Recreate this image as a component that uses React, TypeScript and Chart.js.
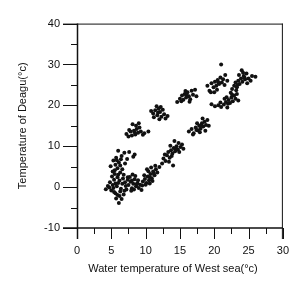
import React, { useEffect, useRef } from "react";
import { Chart, registerables } from "chart.js";

Chart.register(...registerables);

const xTitle = "Water temperature of West sea(°c)";
const yTitle = "Temperature of Deagu(°c)";
const xMajor = [0, 5, 10, 15, 20, 25, 30];
const xMinor = [2.5, 7.5, 12.5, 17.5, 22.5, 27.5];
const yMajor = [-10, 0, 10, 20, 30, 40];
const yMinor = [-5, 5, 15, 25, 35];

const clusterA = [[4.2,-0.5],[4.5,0.3],[4.8,1.2],[5.0,-0.8],[5.2,0.5],[5.4,1.8],[5.6,-1.5],[5.8,0.2],[6.0,1.0],[6.2,-2.2],[6.4,-0.4],[6.6,0.8],[5.1,2.6],[5.5,3.2],[5.9,2.4],[6.3,3.6],[6.7,2.1],[7.0,1.2],[7.2,-0.6],[6.8,-1.8],[6.1,-3.9],[5.7,-2.8],[6.5,-2.9],[5.3,-0.2],[4.9,5.1],[5.3,6.5],[5.7,7.2],[6.1,6.0],[6.5,7.6],[6.9,8.4],[7.3,6.9],[5.9,4.6],[6.3,5.3],[5.5,4.1],[6.6,4.4],[7.0,5.8],[7.6,8.6],[8.2,7.4],[8.4,8.0],[6.0,8.9],[5.6,5.5],[6.8,3.0],[7.4,2.4],[6.2,1.6],[5.4,-1.2],[4.7,-0.1],[6.9,-0.9],[7.1,0.3],[5.8,6.6],[6.4,6.8],[5.2,3.8],[6.0,3.0],[5.6,0.9],[6.3,-1.1],[5.9,-1.9]];
const clusterB = [[7.5,0.5],[7.8,1.3],[8.0,-0.3],[8.2,0.8],[8.4,1.9],[8.6,0.2],[8.8,1.0],[9.0,-0.2],[9.2,0.6],[7.7,2.5],[8.1,3.1],[8.5,2.7],[7.9,-0.9],[8.9,1.7],[9.5,0.4],[8.3,-0.6],[7.4,1.8],[9.4,-0.7],[8.0,1.6],[8.7,0.7]];
const clusterC = [[9.6,1.4],[9.9,2.0],[10.1,1.0],[10.3,2.6],[10.5,1.7],[10.7,3.2],[10.9,2.2],[11.1,3.8],[11.3,2.9],[11.5,4.4],[10.4,3.9],[10.8,4.8],[11.7,3.6],[12.0,4.9],[10.0,0.6],[10.6,0.9],[11.0,1.5],[9.8,2.9],[11.4,5.2],[12.4,5.8],[10.2,4.4],[10.6,2.4],[11.2,3.3]];
const clusterD = [[12.6,7.0],[12.9,6.4],[13.1,7.8],[13.3,8.6],[13.5,7.2],[13.7,9.0],[13.9,8.2],[14.1,9.6],[14.3,8.8],[14.5,10.0],[14.7,9.2],[13.4,6.2],[14.0,5.3],[14.8,10.8],[15.1,9.8],[15.3,10.4],[14.2,11.3],[12.8,8.0],[13.6,10.1],[15.5,9.4],[14.9,8.6],[13.8,7.6],[14.4,9.3]];
const clusterE = [[16.3,13.6],[16.7,14.2],[17.0,13.2],[17.3,14.6],[17.6,13.9],[17.8,15.0],[18.0,14.3],[18.2,15.6],[18.4,14.8],[18.6,16.0],[18.8,15.2],[19.0,16.4],[18.3,16.8],[17.5,15.6],[19.2,15.0],[16.9,12.9],[17.9,13.4],[18.7,13.8],[18.1,15.1],[17.4,14.0]];
const clusterF = [[19.6,20.3],[20.1,19.8],[20.6,20.0],[21.0,19.6],[21.4,20.2],[21.7,20.8],[21.9,19.5],[22.1,21.3],[22.3,20.6],[22.5,21.9],[22.7,21.0],[22.9,22.4],[23.1,21.6],[23.3,22.8],[21.8,22.0],[22.4,23.1],[23.5,21.2],[21.5,21.6],[20.9,20.7],[22.0,20.4],[22.6,22.6]];
const clusterG = [[22.6,24.0],[22.9,24.8],[23.1,25.6],[23.3,24.4],[23.5,26.0],[23.7,25.2],[23.9,26.6],[24.1,25.8],[24.3,27.2],[24.5,26.4],[24.7,27.8],[24.0,28.6],[24.2,28.0],[23.6,27.4],[25.0,26.6],[25.3,26.0],[26.0,27.0],[23.2,23.7],[24.8,25.4],[25.5,27.2],[23.4,25.0],[24.4,26.8]];
const clusterH = [[19.0,24.8],[19.3,23.6],[19.6,25.4],[19.9,24.4],[20.1,25.8],[20.3,24.8],[20.5,26.2],[20.7,25.2],[20.9,26.8],[21.1,25.6],[21.3,26.4],[21.5,25.0],[19.5,23.2],[20.4,23.8],[21.6,27.4],[21.0,30.0],[21.9,26.0],[20.0,23.2],[20.6,25.6]];
const clusterI = [[14.6,20.8],[15.0,21.6],[15.3,22.4],[15.5,21.4],[15.7,22.8],[15.9,21.9],[16.1,23.2],[16.3,22.2],[16.5,21.5],[16.7,23.6],[16.9,22.6],[17.2,23.8],[15.8,23.5],[16.4,20.9],[17.4,22.2],[15.2,21.0],[16.0,22.5]];
const clusterJ = [[10.8,18.6],[11.1,18.0],[11.4,18.8],[11.7,17.6],[11.9,19.2],[12.1,18.4],[12.3,17.2],[12.5,18.9],[12.7,17.8],[12.2,19.6],[11.6,19.8],[12.9,16.8],[13.2,17.4],[11.2,17.1],[12.0,16.6],[11.8,18.2]];
const clusterK = [[7.2,13.0],[7.5,12.4],[7.8,13.6],[8.0,12.6],[8.3,13.8],[8.5,12.9],[8.7,14.2],[8.9,13.3],[9.1,14.6],[9.3,13.6],[8.1,15.4],[9.0,15.6],[9.6,12.8],[8.6,15.0],[7.6,14.0],[9.8,13.2],[10.4,13.6],[8.4,13.4]];

const allPoints = [clusterA, clusterB, clusterC, clusterD, clusterE, clusterF, clusterG, clusterH, clusterI, clusterJ, clusterK]
  .flat()
  .map(([x, y]) => ({ x, y }));

const INK = "#111";
const FONT = "'Liberation Sans', Arial, sans-serif";

const framePlugin = {
  id: "frameTicks",
  afterDraw(chart: any) {
    const { ctx, chartArea } = chart;
    const { left, top, right, bottom } = chartArea;
    const xs = chart.scales.x;
    const ys = chart.scales.y;
    ctx.save();
    ctx.strokeStyle = INK;
    ctx.lineWidth = 1;
    ctx.beginPath();
    ctx.moveTo(left - 14, top + 0.5);
    ctx.lineTo(right, top + 0.5);
    ctx.moveTo(right - 0.5, top);
    ctx.lineTo(right - 0.5, bottom + 11);
    ctx.stroke();
    ctx.lineWidth = 1.5;
    ctx.beginPath();
    ctx.moveTo(left + 0.5, top);
    ctx.lineTo(left + 0.5, bottom + 11);
    ctx.moveTo(left - 14, bottom);
    ctx.lineTo(right, bottom);
    ctx.stroke();
    ctx.lineWidth = 1;
    ctx.beginPath();
    for (const v of xMajor) {
      const p = Math.round(xs.getPixelForValue(v)) + 0.5;
      ctx.moveTo(p, bottom);
      ctx.lineTo(p, bottom + 11);
    }
    for (const v of xMinor) {
      const p = Math.round(xs.getPixelForValue(v)) + 0.5;
      ctx.moveTo(p, bottom);
      ctx.lineTo(p, bottom + 6);
    }
    for (const v of yMajor) {
      const p = Math.round(ys.getPixelForValue(v)) + 0.5;
      ctx.moveTo(left - 14, p);
      ctx.lineTo(left, p);
    }
    for (const v of yMinor) {
      const p = Math.round(ys.getPixelForValue(v)) + 0.5;
      ctx.moveTo(left - 6, p);
      ctx.lineTo(left, p);
    }
    ctx.stroke();
    ctx.fillStyle = INK;
    ctx.font = `11px ${FONT}`;
    ctx.textAlign = "center";
    ctx.textBaseline = "middle";
    ctx.fillText(xTitle, 173, 269);
    ctx.restore();
  },
};

export default function App() {
  const ref = useRef<HTMLCanvasElement>(null);
  useEffect(() => {
    if (!ref.current) return;
    const chart = new Chart(ref.current, {
      type: "scatter",
      data: {
        datasets: [
          {
            data: allPoints,
            backgroundColor: INK,
            borderColor: INK,
            pointRadius: 2,
            pointBorderWidth: 0,
            pointHoverRadius: 2,
          },
        ],
      },
      options: {
        animation: false,
        responsive: false,
        devicePixelRatio: 1,
        layout: { padding: { top: 13, right: 11, left: 0, bottom: 0 } },
        plugins: { legend: { display: false }, tooltip: { enabled: false } },
        scales: {
          x: {
            type: "linear",
            min: 0,
            max: 30,
            afterFit: (s: any) => { s.height = 58; },
            grid: { display: false, drawTicks: false },
            border: { display: false },
            ticks: {
              stepSize: 5,
              padding: 16,
              color: INK,
              font: { family: FONT, size: 11 },
              maxRotation: 0,
            },
          },
          y: {
            type: "linear",
            min: -10,
            max: 40,
            afterFit: (s: any) => { s.width = 77; },
            grid: { display: false, drawTicks: false },
            border: { display: false },
            ticks: {
              stepSize: 10,
              padding: 17,
              color: INK,
              font: { family: FONT, size: 11 },
            },
            title: {
              display: true,
              text: yTitle,
              color: INK,
              font: { family: FONT, size: 11 },
              padding: { top: 16, bottom: 16 },
            },
          },
        },
      },
      plugins: [framePlugin],
    });
    return () => chart.destroy();
  }, []);
  return (
    <div style={{ position: "absolute", left: 0, top: 0, width: 305, height: 286, background: "#fff" }}>
      <canvas ref={ref} width={305} height={286} style={{ width: 305, height: 286 }} />
    </div>
  );
}
